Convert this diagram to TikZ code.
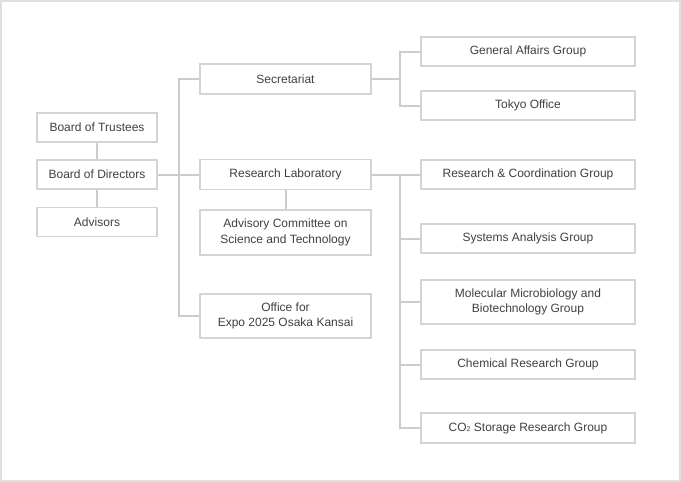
\documentclass[tikz,border=0pt]{standalone}
\usepackage{fontspec}
\setmainfont{Liberation Sans}
\definecolor{boxline}{HTML}{D4D4D4}
\definecolor{conn}{HTML}{CCCCCC}
\definecolor{txt}{HTML}{404040}
\definecolor{frame}{HTML}{E0E0E0}
\begin{document}
\begin{tikzpicture}[x=1pt,y=-1pt,
  box/.style={draw=boxline,line width=1.2pt,fill=white,text=txt,align=center,
    font=\fontsize{12}{15.5}\selectfont,inner sep=0pt},
  lbox/.style={box,minimum width=120pt,minimum height=29pt},
  mbox/.style={box,minimum width=171pt,minimum height=30pt},
  rbox/.style={box,minimum width=214pt,minimum height=29pt},
  link/.style={draw=conn,line width=2pt}]
\useasboundingbox (0,0) rectangle (681,482);
\draw[frame,line width=2pt] (1,1) rectangle (680,481);
% left column
\node[lbox] (bot) at (97,127.5) {Board of Trustees};
\node[lbox] (bod) at (97,174.5) {Board of Directors};
\node[lbox] (adv) at (97,222) {Advisors};
% middle column
\node[mbox] (sec) at (285.5,79) {Secretariat};
\node[mbox] (lab) at (285.5,174.5) {Research Laboratory};
\node[mbox,minimum height=45pt] (acst) at (285.5,232.5) {Advisory Committee on\\Science and Technology};
\node[mbox,minimum height=44pt] (expo) at (285.5,316) {Office for\\Expo 2025 Osaka Kansai};
% right column
\node[rbox] (gag) at (528,51.5) {General Affairs Group};
\node[rbox] (tok) at (528,105.5) {Tokyo Office};
\node[rbox] (rcg) at (528,174.5) {Research \& Coordination Group};
\node[rbox] (sag) at (528,238.5) {Systems Analysis Group};
\node[rbox,minimum height=44pt] (mmb) at (528,302) {Molecular Microbiology and\\Biotechnology Group};
\node[rbox] (crg) at (528,364.5) {Chemical Research Group};
\node[rbox,minimum height=30pt] (co2) at (528,428) {CO{\fontsize{7}{7}\selectfont 2} Storage Research Group};
% connectors
\coordinate (sp) at (179,174.5);
\coordinate (s1) at (400,79);
\coordinate (s2) at (400,174.5);
\draw[link] (bot) -- (bod);
\draw[link] (bod) -- (adv);
\draw[link] (bod.east) -- (lab.west);
\draw[link] (sec.west) -| (sp) |- (expo.west);
\draw[link] (lab) -- (acst);
\draw[link] (sec.east) -- (s1);
\draw[link] (gag.west) -| (s1) |- (tok.west);
\draw[link] (lab.east) -- (rcg.west);
\draw[link] (s2) |- (co2.west);
\draw[link] (s2 |- sag.west) -- (sag.west);
\draw[link] (s2 |- mmb.west) -- (mmb.west);
\draw[link] (s2 |- crg.west) -- (crg.west);
\end{tikzpicture}
\end{document}
